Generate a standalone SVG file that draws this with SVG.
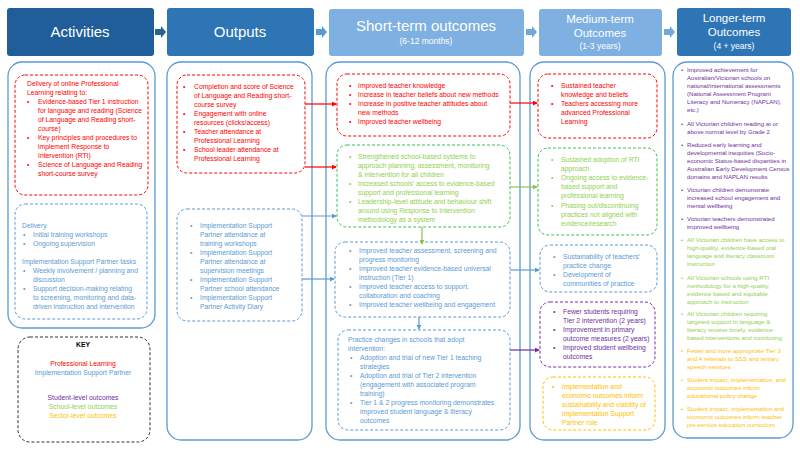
<svg xmlns="http://www.w3.org/2000/svg" width="800" height="450" viewBox="0 0 800 450">
<defs>
<style>
.t{font-family:"Liberation Sans",Arial,sans-serif;font-size:6.8px}
.s{font-size:6.1px}
.h{font-family:"Liberation Sans",Arial,sans-serif;fill:#fff;text-anchor:middle}
.r{fill:#FF0000}.b{fill:#5B9BD5}.g{fill:#92D050}.p{fill:#7030A0}.y{fill:#FFC000}.k{fill:#000}
.body{fill:#fff;stroke:#5B9BD5;stroke-width:1.3}
.d{fill:none;stroke-width:1;stroke-dasharray:3 2}
.dr{stroke:#FF0000}.db{stroke:#5B9BD5}.dg{stroke:#3DBE5C}.dp{stroke:#7030A0}.dy{stroke:#FFC000}.dk{stroke:#333}
.c{fill:none;stroke-width:1.2}
</style>
<marker id="ar" viewBox="0 0 6 6" refX="5" refY="3" markerWidth="5" markerHeight="5" markerUnits="userSpaceOnUse" orient="auto"><path d="M0,0L6,3L0,6z" fill="#FF0000"/></marker>
<marker id="ab" viewBox="0 0 6 6" refX="5" refY="3" markerWidth="5" markerHeight="5" markerUnits="userSpaceOnUse" orient="auto"><path d="M0,0L6,3L0,6z" fill="#5B9BD5"/></marker>
<marker id="ag" viewBox="0 0 6 6" refX="5" refY="3" markerWidth="5" markerHeight="5" markerUnits="userSpaceOnUse" orient="auto"><path d="M0,0L6,3L0,6z" fill="#8BC34A"/></marker>
<marker id="ap" viewBox="0 0 6 6" refX="5" refY="3" markerWidth="5" markerHeight="5" markerUnits="userSpaceOnUse" orient="auto"><path d="M0,0L6,3L0,6z" fill="#7030A0"/></marker>
</defs>
<rect width="800" height="450" fill="#fff"/>

<!-- headers -->
<g id="hdr-activities"><rect x="7" y="8" width="147" height="48" rx="3" fill="#1F5E99"/><text class="h" x="80" y="37" font-size="15">Activities</text></g>
<g id="hdr-outputs"><rect x="167" y="8" width="147" height="48" rx="3" fill="#2E75B6"/><text class="h" x="240" y="37" font-size="15">Outputs</text></g>
<g id="hdr-short"><rect x="329" y="9" width="195" height="47" rx="3" fill="#7EB0E2"/><text class="h" x="426" y="31" font-size="15">Short-term outcomes</text><text class="h" x="426" y="44" font-size="8.5">(6-12 months)</text></g>
<g id="hdr-medium"><rect x="539" y="9" width="123" height="47" rx="3" fill="#7EB0E2"/><text class="h" x="600" y="23" font-size="11.5">Medium-term</text><text class="h" x="600" y="37" font-size="11.5">Outcomes</text><text class="h" x="600" y="49" font-size="8.5">(1-3 years)</text></g>
<g id="hdr-longer"><rect x="677" y="8" width="114" height="48" rx="3" fill="#2E75B6"/><text class="h" x="734" y="22" font-size="11.5">Longer-term</text><text class="h" x="734" y="36" font-size="11.5">Outcomes</text><text class="h" x="734" y="49" font-size="8.5">(4 + years)</text></g>
<g id="hdr-arrows">
<path d="M155,29h6v-3l5,6l-5,6v-3h-6z" fill="#1F6A8A"/>
<path d="M316,29h6v-3l5,6l-5,6v-3h-6z" fill="#5B9BD5"/>
<path d="M526,29h6v-3l5,6l-5,6v-3h-6z" fill="#6FA8DC"/>
<path d="M664,29h6v-3l5,6l-5,6v-3h-6z" fill="#6FA8DC"/>
</g>

<!-- column bodies -->
<g id="col-activities"><rect class="body" x="8" y="62" width="147" height="266" rx="14"/></g>
<g id="col-outputs"><rect class="body" x="167" y="62" width="145" height="378" rx="14"/></g>
<g id="col-short"><rect class="body" x="326" y="62" width="194" height="378" rx="14"/></g>
<g id="col-medium"><rect class="body" x="530" y="62" width="135" height="378" rx="14"/></g>
<g id="col-longer"><rect class="body" x="673" y="62" width="120" height="376" rx="14"/></g>

<!-- Activities -->
<g id="act-pl" class="t r">
<rect class="d dr" x="15" y="75" width="133" height="120" rx="10"/>
<text x="27" y="86">Delivery of online Professional</text>
<text x="27" y="95">Learning relating to:</text>
<text x="27" y="104">•</text><text x="38" y="104">Evidence-based Tier 1 instruction</text>
<text x="38" y="113">for language and reading (Science</text>
<text x="38" y="122">of Language and Reading short-</text>
<text x="38" y="131">course)</text>
<text x="27" y="140">•</text><text x="38" y="140">Key principles and procedures to</text>
<text x="38" y="149">implement Response to</text>
<text x="38" y="158">Intervention (RTI)</text>
<text x="27" y="167">•</text><text x="38" y="167">Science of Language and Reading</text>
<text x="38" y="176">short-course survey</text>
</g>
<g id="act-isp" class="t b">
<rect class="d db" x="15" y="204" width="132" height="115" rx="10"/>
<text x="22" y="228">Delivery</text>
<text x="23" y="237">•</text><text x="33" y="237">Initial training workshops</text>
<text x="23" y="246">•</text><text x="33" y="246">Ongoing supervision</text>
<text x="22" y="264">Implementation Support Partner tasks</text>
<text x="23" y="273">•</text><text x="33" y="273">Weekly involvement / planning and</text>
<text x="33" y="282">discussion</text>
<text x="23" y="291">•</text><text x="33" y="291">Support decision-making relating</text>
<text x="33" y="300">to screening, monitoring and data-</text>
<text x="33" y="309">driven instruction and intervention</text>
</g>
<g id="key" class="t" text-anchor="middle">
<rect class="d dk" x="18" y="337" width="132" height="105" rx="12"/>
<text class="k" x="83" y="347" font-weight="bold">KEY</text>
<text class="r" x="83" y="366">Professional Learning</text>
<text class="b" x="83" y="375">Implementation Support Partner</text>
<text class="p" x="83" y="400">Student-level outcomes</text>
<text class="g" x="83" y="409">School-level outcomes</text>
<text class="y" x="83" y="418">Sector-level outcomes</text>
</g>

<!-- Outputs -->
<g id="out-pl" class="t r">
<rect class="d dr" x="177" y="75" width="128" height="98" rx="10"/>
<text x="183" y="89">•</text><text x="194" y="89">Completion and score of Science</text>
<text x="194" y="98">of Language and Reading short-</text>
<text x="194" y="107">course survey</text>
<text x="183" y="116">•</text><text x="194" y="116">Engagement with online</text>
<text x="194" y="125">resources (clicks/access)</text>
<text x="183" y="134">•</text><text x="194" y="134">Teacher attendance at</text>
<text x="194" y="143">Professional Learning</text>
<text x="183" y="152">•</text><text x="194" y="152">School leader attendance at</text>
<text x="194" y="161">Professional Learning</text>
</g>
<g id="out-isp" class="t b">
<rect class="d db" x="177" y="209" width="125" height="112" rx="10"/>
<text x="190" y="228">•</text><text x="200" y="228">Implementation Support</text>
<text x="200" y="237">Partner attendance at</text>
<text x="200" y="246">training workshops</text>
<text x="190" y="255">•</text><text x="200" y="255">Implementation Support</text>
<text x="200" y="264">Partner attendance at</text>
<text x="200" y="273">supervision meetings</text>
<text x="190" y="282">•</text><text x="200" y="282">Implementation Support</text>
<text x="200" y="291">Partner school attendance</text>
<text x="190" y="300">•</text><text x="200" y="300">Implementation Support</text>
<text x="200" y="309">Partner Activity Diary</text>
</g>

<!-- Short-term -->
<g id="st-teacher" class="t r">
<rect class="d dr" x="337" y="74" width="173" height="62" rx="10"/>
<text x="349" y="88">•</text><text x="358" y="88">Improved teacher knowledge</text>
<text x="349" y="97">•</text><text x="358" y="97">Increase in teacher beliefs about new methods</text>
<text x="349" y="106">•</text><text x="358" y="106">Increase in positive teacher attitudes about</text>
<text x="358" y="115">new methods</text>
<text x="349" y="124">•</text><text x="358" y="124">Improved teacher wellbeing</text>
</g>
<g id="st-school" class="t g">
<rect class="d dg" x="337" y="145" width="173" height="82" rx="10"/>
<text x="349" y="159">•</text><text x="358" y="159">Strengthened school-based systems to</text>
<text x="358" y="168">approach planning, assessment, monitoring</text>
<text x="358" y="177">&amp; intervention for all children</text>
<text x="349" y="186">•</text><text x="358" y="186">Increased schools’ access to evidence-based</text>
<text x="358" y="195">support and professional learning</text>
<text x="349" y="204">•</text><text x="358" y="204">Leadership-level attitude and behaviour shift</text>
<text x="358" y="213">around using Response to Intervention</text>
<text x="358" y="222">methodology as a system</text>
</g>
<g id="st-isp" class="t b">
<rect class="d db" x="335" y="242" width="175" height="75" rx="10"/>
<text x="349" y="253">•</text><text x="359" y="253">Improved teacher assessment, screening and</text>
<text x="359" y="262">progress monitoring</text>
<text x="349" y="271">•</text><text x="359" y="271">Improved teacher evidence-based universal</text>
<text x="359" y="280">instruction (Tier 1)</text>
<text x="349" y="289">•</text><text x="359" y="289">Improved teacher access to support,</text>
<text x="359" y="298">collaboration and coaching</text>
<text x="349" y="307">•</text><text x="359" y="307">Improved teacher wellbeing and engagement</text>
</g>
<g id="st-practice" class="t b">
<rect class="d db" x="338" y="330" width="172" height="100" rx="10"/>
<text x="348" y="342">Practice changes in schools that adopt</text>
<text x="348" y="351">intervention:</text>
<text x="350" y="360">•</text><text x="360" y="360">Adoption and trial of new Tier 1 teaching</text>
<text x="360" y="369">strategies</text>
<text x="350" y="378">•</text><text x="360" y="378">Adoption and trial of Tier 2 intervention</text>
<text x="360" y="387">(engagement with associated program</text>
<text x="360" y="396">training)</text>
<text x="350" y="405">•</text><text x="360" y="405">Tier 1 &amp; 2 progress monitoring demonstrates</text>
<text x="360" y="414">improved student language &amp; literacy</text>
<text x="360" y="423">outcomes</text>
</g>

<!-- Medium-term -->
<g id="mt-teacher" class="t r">
<rect class="d dr" x="538" y="74" width="119" height="64" rx="10"/>
<text x="551" y="88">•</text><text x="561" y="88">Sustained teacher</text>
<text x="561" y="97">knowledge and beliefs</text>
<text x="551" y="106">•</text><text x="561" y="106">Teachers accessing more</text>
<text x="561" y="115">advanced Professional</text>
<text x="561" y="124">Learning</text>
</g>
<g id="mt-school" class="t g">
<rect class="d dg" x="538" y="148" width="119" height="87" rx="10"/>
<text x="551" y="162">•</text><text x="561" y="162">Sustained adoption of RTI</text>
<text x="561" y="171">approach</text>
<text x="551" y="180">•</text><text x="561" y="180">Ongoing access to evidence-</text>
<text x="561" y="189">based support and</text>
<text x="561" y="198">professional learning</text>
<text x="551" y="208">•</text><text x="561" y="208">Phasing out/discontinuing</text>
<text x="561" y="217">practices not aligned with</text>
<text x="561" y="226">evidence/research</text>
</g>
<g id="mt-isp" class="t b">
<rect class="d db" x="540" y="245" width="117" height="47" rx="10"/>
<text x="553" y="259">•</text><text x="563" y="259">Sustainability of teachers’</text>
<text x="563" y="268">practice change</text>
<text x="553" y="277">•</text><text x="563" y="277">Development of</text>
<text x="563" y="286">communities of practice</text>
</g>
<g id="mt-student" class="t p">
<rect class="d dp" x="540" y="302" width="115" height="65" rx="10"/>
<text x="553" y="314">•</text><text x="563" y="314">Fewer students requiring</text>
<text x="563" y="323">Tier 2 intervention (2 years)</text>
<text x="553" y="332">•</text><text x="563" y="332">Improvement in primary</text>
<text x="563" y="341">outcome measures (2 years)</text>
<text x="553" y="350">•</text><text x="563" y="350">Improved student wellbeing</text>
<text x="563" y="359">outcomes</text>
</g>
<g id="mt-sector" class="t y">
<rect class="d dy" x="543" y="377" width="112" height="53" rx="10"/>
<text x="552" y="389">•</text><text x="562" y="389">Implementation and</text>
<text x="562" y="398">economic outcomes inform</text>
<text x="562" y="407">sustainability and viability of</text>
<text x="562" y="416">Implementation Support</text>
<text x="562" y="425">Partner role</text>
</g>

<!-- Longer-term -->
<g id="lt-outcomes" class="t s">
<g class="p">
<text x="681" y="72">•</text><text x="687" y="72">Improved achievement for</text>
<text x="687" y="80">Australian/Victorian schools on</text>
<text x="687" y="88">national/international assessments</text>
<text x="687" y="96">(National Assessment Program</text>
<text x="687" y="104">Literacy and Numeracy (NAPLAN),</text>
<text x="687" y="112">etc.)</text>
<text x="681" y="126">•</text><text x="687" y="126">All Victorian children reading at or</text>
<text x="687" y="134">above normal level by Grade 2</text>
<text x="681" y="147">•</text><text x="687" y="147">Reduced early learning and</text>
<text x="687" y="155">developmental inequities (Socio-</text>
<text x="687" y="163">economic Status-based disparities in</text>
<text x="687" y="171">Australian Early Development Census</text>
<text x="687" y="179">domains and NAPLAN results</text>
<text x="681" y="192">•</text><text x="687" y="192">Victorian children demonstrate</text>
<text x="687" y="200">increased school engagement and</text>
<text x="687" y="208">mental wellbeing</text>
<text x="681" y="221">•</text><text x="687" y="221">Victorian teachers demonstrated</text>
<text x="687" y="229">improved wellbeing</text>
</g>
<g class="g">
<text x="681" y="242">•</text><text x="687" y="242">All Victorian children have access to</text>
<text x="687" y="250">high-quality, evidence-based oral</text>
<text x="687" y="258">language and literacy classroom</text>
<text x="687" y="266">instruction</text>
<text x="681" y="280">•</text><text x="687" y="280">All Victorian schools using RTI</text>
<text x="687" y="288">methodology for a high-quality,</text>
<text x="687" y="296">evidence based and equitable</text>
<text x="687" y="304">approach to instruction</text>
<text x="681" y="316">•</text><text x="687" y="316">All Victorian children requiring</text>
<text x="687" y="324">targeted support in language &amp;</text>
<text x="687" y="332">literacy receive timely, evidence-</text>
<text x="687" y="340">based interventions and monitoring</text>
</g>
<g class="y">
<text x="681" y="353">•</text><text x="687" y="353">Fewer and more appropriate Tier 3</text>
<text x="687" y="361">and 4 referrals to SSS and tertiary</text>
<text x="687" y="369">speech services</text>
<text x="681" y="382">•</text><text x="687" y="382">Student impact, implementation, and</text>
<text x="687" y="390">economic outcomes inform</text>
<text x="687" y="398">educational policy change</text>
<text x="681" y="411">•</text><text x="687" y="411">Student impact, implementation and</text>
<text x="687" y="419">economic outcomes inform teacher</text>
<text x="687" y="427">pre-service education curriculum</text>
</g>
</g>

<!-- connectors -->
<g id="connectors">
<path class="c" d="M305,104H336" stroke="#FF0000" marker-end="url(#ar)"/>
<path class="c" d="M305,167H336" stroke="#FF0000" marker-end="url(#ar)"/>
<path class="c" d="M302,216H336" stroke="#5B9BD5" marker-end="url(#ab)"/>
<path class="c" d="M302,279H334" stroke="#5B9BD5" marker-end="url(#ab)"/>
<path class="c" d="M510,103H537" stroke="#FF0000" marker-end="url(#ar)"/>
<path class="c" d="M510,187H537" stroke="#8BC34A" marker-end="url(#ag)"/>
<path class="c" d="M422,227V244" stroke="#8BC34A" marker-end="url(#ag)"/>
<path class="c" d="M510,270H539" stroke="#5B9BD5" marker-end="url(#ab)"/>
<path class="c" d="M419,317V329" stroke="#5B9BD5" marker-end="url(#ab)"/>
<path class="c" d="M510,350H539" stroke="#7030A0" marker-end="url(#ap)"/>
</g>
</svg>
